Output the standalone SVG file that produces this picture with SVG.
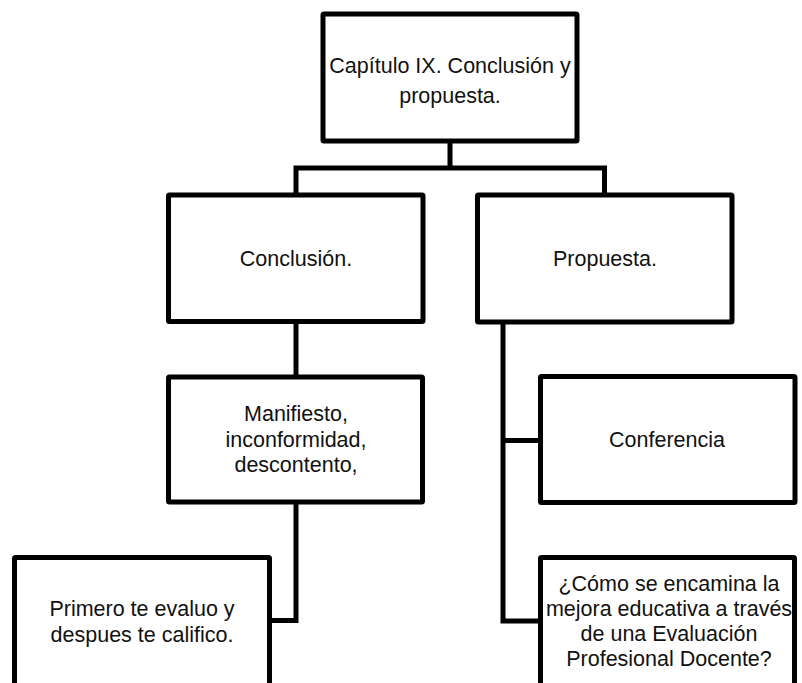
<svg xmlns="http://www.w3.org/2000/svg" width="802" height="683" viewBox="0 0 802 683">
<style>
  .box { fill: #ffffff; stroke: #000000; stroke-width: 5; stroke-linejoin: round; }
  .conn { fill: none; stroke: #000000; stroke-width: 5; stroke-linejoin: miter; }
  .lbl { font-family: "Liberation Sans", Arial, sans-serif; font-size: 21.5px; fill: #111111; text-anchor: middle; }
</style>
<rect width="802" height="683" fill="#ffffff"/>
<g id="connectors">
  <path class="conn" d="M450,141 V168"/>
  <path class="conn" d="M296,195 V168 H604.5 V195"/>
  <path class="conn" d="M296,321.5 V377"/>
  <path class="conn" d="M296,502 V620.5 H269.5"/>
  <path class="conn" d="M503,322 V621 H540.5"/>
  <path class="conn" d="M503,440.5 H540.5"/>
</g>
<g id="node-capitulo">
  <rect class="box" x="323" y="14" width="254" height="127" rx="1"/>
  <text class="lbl" x="450" y="72.5">Capítulo IX. Conclusión y</text>
  <text class="lbl" x="450" y="103">propuesta.</text>
</g>
<g id="node-conclusion">
  <rect class="box" x="168.5" y="195" width="254.5" height="126.5" rx="1"/>
  <text class="lbl" x="296" y="266">Conclusión.</text>
</g>
<g id="node-propuesta">
  <rect class="box" x="477.5" y="195" width="254.5" height="127" rx="1"/>
  <text class="lbl" x="605" y="266">Propuesta.</text>
</g>
<g id="node-manifiesto">
  <rect class="box" x="168.5" y="377" width="254" height="125" rx="1"/>
  <text class="lbl" x="296" y="421">Manifiesto,</text>
  <text class="lbl" x="296" y="446.5">inconformidad,</text>
  <text class="lbl" x="296" y="472">descontento,</text>
</g>
<g id="node-conferencia">
  <rect class="box" x="540.5" y="376.5" width="254.5" height="126" rx="1"/>
  <text class="lbl" x="667" y="447">Conferencia</text>
</g>
<g id="node-primero">
  <rect class="box" x="14.5" y="557.5" width="255" height="140" rx="1"/>
  <text class="lbl" x="142" y="616">Primero te evaluo y</text>
  <text class="lbl" x="142" y="641.5">despues te califico.</text>
</g>
<g id="node-pregunta">
  <rect class="box" x="540.5" y="557.5" width="254" height="140" rx="1"/>
  <text class="lbl" x="669" y="591">¿Cómo se encamina la</text>
  <text class="lbl" x="669" y="615.5">mejora educativa a través</text>
  <text class="lbl" x="669" y="640.5">de una Evaluación</text>
  <text class="lbl" x="669" y="666">Profesional Docente?</text>
</g>
</svg>
